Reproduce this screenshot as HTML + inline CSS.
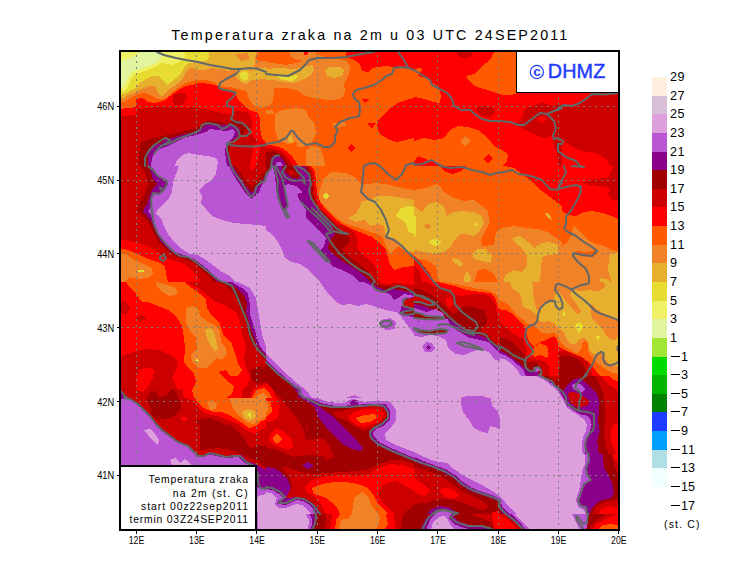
<!DOCTYPE html><html><head><meta charset="utf-8"><title>Temperatura zraka</title>
<style>html,body{margin:0;padding:0;background:#fff}svg{display:block}text{font-family:"Liberation Sans", sans-serif}</style></head><body>
<svg width="740" height="582" viewBox="0 0 740 582" shape-rendering="crispEdges">
<rect x="0" y="0" width="740" height="582" fill="#fff"/>
<defs><clipPath id="mapclip"><rect x="120" y="51" width="499" height="479"/></clipPath>
<clipPath id="t0"><rect x="118" y="50" width="148" height="116"/></clipPath>
<clipPath id="t1"><rect x="266" y="50" width="148" height="116"/></clipPath>
<clipPath id="t2"><rect x="414" y="50" width="148" height="116"/></clipPath>
<clipPath id="t3"><rect x="562" y="50" width="58" height="116"/></clipPath>
<clipPath id="t4"><rect x="118" y="166" width="148" height="116"/></clipPath>
<clipPath id="t5"><rect x="266" y="166" width="148" height="116"/></clipPath>
<clipPath id="t6"><rect x="414" y="166" width="148" height="116"/></clipPath>
<clipPath id="t7"><rect x="562" y="166" width="58" height="116"/></clipPath>
<clipPath id="t8"><rect x="118" y="282" width="148" height="116"/></clipPath>
<clipPath id="t9"><rect x="266" y="282" width="148" height="116"/></clipPath>
<clipPath id="t10"><rect x="414" y="282" width="148" height="116"/></clipPath>
<clipPath id="t11"><rect x="562" y="282" width="58" height="116"/></clipPath>
<clipPath id="t12"><rect x="118" y="398" width="148" height="116"/></clipPath>
<clipPath id="t13"><rect x="266" y="398" width="148" height="116"/></clipPath>
<clipPath id="t14"><rect x="414" y="398" width="148" height="116"/></clipPath>
<clipPath id="t15"><rect x="562" y="398" width="58" height="116"/></clipPath>
<clipPath id="t16"><rect x="266" y="514" width="148" height="17"/></clipPath>
<clipPath id="t17"><rect x="414" y="514" width="148" height="17"/></clipPath>
<clipPath id="t18"><rect x="562" y="514" width="58" height="17"/></clipPath>
<clipPath id="t19"><rect x="118" y="514" width="148" height="17"/></clipPath>
<clipPath id="t20"><rect x="500" y="282" width="120" height="94"/></clipPath>
<clipPath id="t21"><rect x="500" y="376" width="120" height="78"/></clipPath>
</defs>
<g clip-path="url(#mapclip)">
<rect x="119" y="50" width="501" height="481" fill="#ff0000"/>
<g clip-path="url(#t0)">
<rect x="118" y="50" width="148" height="116" fill="#ff0000"/>
<polygon fill="#ff5a00" points="118.0,50.0 266.0,50.0 266.0,143.0 262.0,138.0 260.4,130.0 260.4,120.0 258.0,113.0 250.0,110.0 243.0,105.0 238.0,99.0 235.0,93.0 230.0,90.0 222.0,89.0 218.0,86.0 208.0,83.6 198.0,83.0 192.0,85.0 186.0,86.0 180.0,89.0 174.0,93.0 170.0,96.0 165.0,100.0 160.0,102.0 153.0,103.0 148.0,102.0 144.0,99.0 141.0,98.0 136.4,99.0 136.0,107.0 130.0,108.0 118.0,109.0"/>
<polygon fill="#f08228" points="118.0,50.0 258.0,50.0 258.0,54.0 256.0,58.0 258.0,61.0 266.0,61.0 266.0,107.0 260.0,108.0 254.0,106.0 249.0,99.0 246.0,91.0 238.0,89.0 230.0,87.0 224.0,87.0 218.0,85.0 214.0,82.0 206.0,80.0 198.0,80.0 192.0,81.0 186.0,83.0 182.0,85.0 178.0,88.0 174.0,91.0 170.0,94.0 166.0,98.0 162.0,99.0 158.0,99.0 152.0,96.0 148.0,94.0 144.0,93.0 138.0,94.0 134.0,96.0 129.0,99.0 125.0,102.0 118.0,103.0"/>
<polygon fill="#e6af2d" points="118.0,50.0 256.0,50.0 256.0,52.0 255.0,60.0 254.0,70.0 248.0,69.0 240.0,68.0 236.0,70.0 228.0,70.8 219.0,68.6 210.2,68.4 204.2,70.4 196.8,70.0 192.0,67.6 188.4,69.0 186.0,72.4 183.0,78.0 180.0,82.0 174.0,86.0 168.0,90.0 165.0,94.0 162.0,96.0 159.0,94.0 157.6,92.0 156.0,87.0 153.0,85.6 148.0,86.4 140.0,89.6 137.0,91.0 133.0,93.0 128.0,95.0 124.0,98.0 118.0,99.0"/>
<polygon fill="#e6af2d" points="236.0,70.0 240.0,68.0 248.0,69.0 254.0,74.0 252.0,80.0 246.0,84.0 240.0,82.0 236.0,77.0"/>
<polygon fill="#e6af2d" points="252.0,70.0 266.0,67.0 266.0,79.0 252.0,80.0"/>
<polygon fill="#f08228" points="236.0,54.0 248.0,53.0 250.0,59.0 240.0,61.0"/>
<polygon fill="#e6dc32" points="118.0,50.0 209.0,50.0 208.4,60.0 198.0,62.0 188.0,63.0 185.0,66.0 183.0,70.0 180.0,75.0 176.0,78.0 171.0,82.0 167.0,85.0 162.0,80.0 158.0,76.0 153.0,75.6 148.0,78.0 143.0,81.0 138.0,84.0 136.0,88.0 131.0,90.0 127.0,93.0 118.0,95.6"/>
<polygon fill="#e6dc32" points="240.0,73.0 245.0,71.0 249.0,74.0 248.0,79.0 244.0,81.0 240.4,78.0"/>
<polygon fill="#f0f064" points="118.0,50.0 184.0,50.0 185.0,58.0 182.0,60.0 178.0,62.0 172.0,65.0 168.0,64.0 162.0,63.0 157.0,66.0 150.0,69.0 143.0,71.6 134.0,75.0 132.0,78.0 129.0,84.0 126.0,90.0 118.0,93.0"/>
<polygon fill="#e1f5a0" points="121.0,61.0 128.0,59.0 138.0,54.0 139.6,52.0 158.0,52.0 162.0,56.0 161.0,59.0 156.0,63.0 150.0,65.0 143.0,68.0 136.0,70.0 131.0,73.0 128.0,78.0 125.0,84.0 121.0,89.0"/>
<polygon fill="#cd0000" points="173.0,95.0 178.0,93.0 185.0,93.0 187.0,97.0 185.0,102.0 180.0,105.0 175.0,105.6 172.4,101.0"/>
<polygon fill="#cd0000" points="118.0,117.0 124.0,116.0 136.0,115.0 137.0,109.0 148.0,108.0 158.0,107.0 172.0,106.4 184.0,108.0 194.0,107.0 202.0,109.0 212.0,111.0 222.0,113.0 230.0,114.0 236.0,111.0 246.0,112.0 251.0,116.0 252.0,124.0 251.0,132.0 254.0,138.0 260.0,143.0 266.0,144.0 266.0,166.0 118.0,166.0"/>
<polygon fill="#ff0000" points="254.0,144.0 260.4,143.0 260.4,150.0 258.0,158.0 256.0,166.0 250.0,166.0 252.0,154.0"/>
<polygon fill="#a00000" points="139.0,166.0 139.6,150.0 141.0,142.0 150.0,139.0 162.0,136.0 178.0,133.0 188.0,130.0 198.0,127.0 202.0,123.0 208.0,121.0 218.0,121.0 226.0,124.0 230.0,122.0 236.0,120.0 242.0,123.0 246.0,129.0 242.0,136.0 236.0,140.0 230.0,144.0 229.0,154.0 232.0,166.0"/>
<polygon fill="#8b008b" points="148.0,166.0 148.0,154.0 151.0,148.0 155.0,144.0 161.0,144.0 164.0,140.0 172.0,138.0 184.0,134.0 194.0,132.0 202.0,128.0 206.0,125.0 214.0,124.0 222.0,125.0 230.0,125.0 236.0,126.0 240.0,130.0 238.0,136.0 233.0,140.0 228.0,143.0 227.0,150.0 229.0,158.0 230.0,166.0"/>
<polygon fill="#ba55d3" points="151.0,166.0 152.0,158.0 155.0,152.0 160.0,149.0 168.0,146.0 178.0,141.0 186.0,137.0 196.0,135.0 206.0,132.0 210.0,129.0 218.0,130.0 226.0,131.0 232.0,129.0 235.0,132.0 233.0,138.0 229.0,141.0 226.0,144.0 225.0,152.0 227.0,166.0"/>
<polygon fill="#dda0dd" points="175.0,166.0 177.0,160.0 182.0,155.0 188.0,153.0 198.0,155.0 208.0,156.0 216.0,158.0 218.0,162.0 217.0,166.0"/>
</g>
<g clip-path="url(#t1)">
<rect x="266" y="50" width="148" height="116" fill="#ff5a00"/>
<polygon fill="#f08228" points="266.0,62.0 286.0,65.0 300.0,62.0 312.0,56.0 318.0,54.0 326.0,58.0 346.0,60.0 350.0,66.0 349.0,74.0 344.0,84.0 345.0,92.0 342.0,98.0 332.0,100.0 318.0,99.0 306.0,96.0 296.0,90.0 286.0,88.0 274.0,88.0 273.0,102.0 266.0,107.6"/>
<polygon fill="#f08228" points="290.0,50.0 316.0,50.0 316.0,56.0 306.0,61.0 296.0,60.0 290.0,56.0"/>
<polygon fill="#e6af2d" points="266.0,69.0 278.0,68.0 296.0,69.0 306.0,66.0 313.0,65.0 314.0,70.0 310.0,76.0 302.0,80.0 294.0,83.0 284.0,82.0 274.0,80.0 266.0,80.0"/>
<polygon fill="#e6dc32" points="278.0,75.0 288.0,77.0 296.0,75.0 298.0,77.0 292.0,81.0 284.0,80.0 277.0,77.0"/>
<polygon fill="#e6af2d" points="325.0,70.0 330.0,67.0 340.0,67.0 344.0,71.0 342.0,76.0 334.0,78.0 327.0,76.0"/>
<polygon fill="#f08228" points="275.0,114.0 282.0,110.0 296.0,108.0 306.0,110.0 309.0,118.0 314.0,122.0 316.0,134.0 313.0,140.0 310.0,146.0 298.0,147.0 296.0,142.0 288.0,144.0 278.0,140.0 275.0,130.0"/>
<polygon fill="#f08228" points="266.0,110.0 273.0,110.0 274.0,114.0 266.0,114.4"/>
<polygon fill="#e6af2d" points="288.0,138.0 292.0,133.0 293.0,143.0 289.0,143.0"/>
<polygon fill="#f08228" points="306.0,150.0 312.0,146.0 320.0,148.0 324.0,158.0 325.0,166.0 306.0,166.0"/>
<polygon fill="#f08228" points="332.0,123.0 345.0,122.0 346.0,126.0 334.0,127.6"/>
<polygon fill="#ff0000" points="347.0,50.0 414.0,50.0 414.0,70.0 406.0,69.0 402.0,66.0 394.0,67.0 386.0,66.0 378.0,67.0 372.0,68.0 368.0,72.0 362.0,71.0 360.0,64.0 354.0,60.0 346.0,57.0"/>
<polygon fill="#ff0000" points="414.0,98.0 406.0,100.0 398.0,103.0 390.0,108.0 384.0,114.0 378.0,120.0 377.0,128.0 380.0,134.0 388.0,139.0 396.0,142.0 406.0,140.0 414.0,138.0"/>
<polygon fill="#ff0000" points="362.0,99.0 369.0,99.0 365.4,103.6"/>
<polygon fill="#ff0000" points="367.0,123.6 376.0,123.0 372.0,128.4"/>
<polygon fill="#ff0000" points="351.6,143.6 355.4,148.0 351.6,152.4 347.6,147.6"/>
<polygon fill="#ff0000" points="304.0,52.4 308.0,52.4 307.0,55.6 304.4,55.0"/>
<polygon fill="#ff0000" points="266.0,145.0 274.0,145.6 282.0,148.0 290.0,154.0 296.0,162.0 298.0,166.0 266.0,166.0"/>
<polygon fill="#cd0000" points="266.0,148.0 274.0,148.4 281.0,151.0 288.0,157.0 293.0,166.0 266.0,166.0"/>
<polygon fill="#a00000" points="266.0,152.0 274.0,151.0 280.0,154.0 286.0,160.0 289.0,166.0 266.0,166.0"/>
<polygon fill="#8b008b" points="272.0,156.0 278.0,155.0 283.0,159.0 286.0,166.0 270.0,166.0 271.0,160.0"/>
<polygon fill="#ba55d3" points="277.0,162.0 281.0,162.0 283.0,166.0 275.0,166.0"/>
</g>
<g clip-path="url(#t2)">
<rect x="414" y="50" width="148" height="116" fill="#ff0000"/>
<polygon fill="#ff5a00" points="414.0,69.0 420.0,68.0 422.0,70.0 418.0,76.0 426.0,78.0 434.0,84.0 439.0,88.0 441.0,96.0 440.0,103.0 434.0,102.0 424.0,99.0 414.0,97.0"/>
<polygon fill="#ff5a00" points="495.0,50.0 517.0,50.0 517.0,93.0 512.0,95.0 502.0,95.0 494.0,92.0 484.0,89.0 474.0,86.0 468.0,80.0 466.0,76.0 474.0,74.0 482.0,66.0 490.0,60.0"/>
<polygon fill="#ff5a00" points="414.0,141.0 424.0,138.0 434.0,140.0 444.0,138.0 450.0,130.0 458.0,126.0 468.0,127.0 478.0,130.0 488.0,138.0 494.0,146.0 502.0,150.0 508.0,154.0 507.0,162.0 502.0,166.0 444.0,166.0 434.0,162.0 426.0,159.0 418.0,156.0 414.0,162.0"/>
<polygon fill="#f08228" points="465.0,136.0 470.0,141.0 465.0,147.0 460.4,142.0"/>
<polygon fill="#ff0000" points="488.0,154.0 493.0,159.0 488.0,163.0 483.6,159.0"/>
<polygon fill="#cd0000" points="455.0,50.0 474.0,50.0 471.0,57.0 464.0,58.4 458.0,56.0"/>
<polygon fill="#cd0000" points="477.0,107.0 484.0,105.6 492.0,107.0 495.6,112.0 491.0,117.0 482.0,116.0 476.4,111.0"/>
<polygon fill="#cd0000" points="525.0,109.0 534.0,105.0 542.0,103.0 550.0,105.0 562.0,104.0 562.0,166.0 558.0,166.0 557.0,154.0 554.0,144.0 552.0,136.0 544.0,138.0 534.0,134.0 526.0,130.0 518.0,126.0 516.0,123.0 522.0,118.0"/>
<polygon fill="#ff0000" points="537.0,118.0 542.0,116.0 547.0,118.0 544.0,123.0 539.0,122.0"/>
</g>
<g clip-path="url(#t3)">
<rect x="562" y="50" width="58" height="116" fill="#cd0000"/>
<polygon fill="#ff0000" points="562.0,90.0 591.0,90.0 588.0,98.0 581.0,102.4 572.0,105.6 566.0,104.4 562.0,106.4"/>
<polygon fill="#ff0000" points="562.0,139.0 568.0,144.0 576.0,149.0 588.0,152.0 598.0,154.0 605.0,158.0 610.0,166.0 562.0,166.0"/>
</g>
<g clip-path="url(#t4)">
<rect x="118" y="166" width="148" height="116" fill="#cd0000"/>
<polygon fill="#ff0000" points="118.0,239.0 128.0,241.0 138.0,243.0 148.0,246.0 158.0,252.0 166.0,258.0 174.0,260.0 184.0,264.0 192.0,270.0 198.0,277.0 200.0,282.0 118.0,282.0"/>
<polygon fill="#ff5a00" points="118.0,248.0 128.0,250.0 138.0,254.0 148.0,259.0 158.0,262.0 165.0,266.0 166.0,274.0 168.0,282.0 118.0,282.0"/>
<polygon fill="#f08228" points="118.0,254.0 126.0,254.0 134.0,260.0 144.0,264.0 152.0,268.0 153.0,274.0 148.0,278.0 138.0,279.0 130.0,277.0 124.0,282.0 118.0,282.0"/>
<polygon fill="#e6dc32" points="138.0,270.0 144.0,270.4 144.0,272.0 138.0,271.6"/>
<polygon fill="#a00000" points="141.0,166.0 146.0,174.0 148.0,184.0 145.0,194.0 139.0,204.0 138.0,211.0 143.0,217.0 149.0,223.0 153.0,232.0 158.0,241.0 166.0,250.0 174.0,256.0 184.0,259.0 194.0,263.0 202.0,270.0 210.0,278.0 214.0,282.0 266.0,282.0 266.0,166.0"/>
<polygon fill="#8b008b" points="148.0,166.0 151.0,172.0 153.0,180.0 157.0,184.0 153.0,188.0 150.0,194.0 148.0,202.0 143.0,211.0 147.0,216.0 151.0,221.0 155.0,230.0 160.0,240.0 168.0,249.0 176.0,255.0 186.0,257.6 195.0,262.0 204.0,269.0 213.0,278.0 218.0,282.0 266.0,282.0 266.0,166.0"/>
<polygon fill="#ba55d3" points="150.0,166.0 155.0,171.0 160.0,177.0 167.0,181.0 168.0,184.0 165.0,190.0 161.0,193.0 154.0,194.0 152.0,200.0 151.0,206.0 148.0,212.0 151.0,215.0 153.0,221.0 157.0,230.0 162.0,239.0 169.0,247.0 177.0,253.0 187.0,256.0 196.0,260.0 206.0,268.0 216.0,277.0 223.0,282.0 266.0,282.0 266.0,166.0"/>
<polygon fill="#dda0dd" points="179.0,166.0 176.0,174.0 173.0,182.0 172.0,192.0 169.0,198.0 163.0,204.0 157.0,210.0 156.0,214.0 161.0,218.0 164.0,226.0 168.0,234.0 174.0,242.0 182.0,249.0 190.0,254.0 198.0,255.0 206.0,260.0 214.0,266.0 222.0,272.0 230.0,276.0 235.0,282.0 266.0,282.0 266.0,226.0 258.0,225.0 246.0,224.0 234.0,223.0 222.0,220.0 212.0,216.0 206.0,209.0 201.0,204.0 202.0,196.0 199.0,190.0 204.0,185.0 212.0,180.0 216.0,174.0 217.0,166.0"/>
<polygon fill="#8b008b" points="229.0,166.0 233.0,174.0 238.0,182.0 244.0,191.0 251.0,199.0 258.0,194.0 262.0,185.0 266.0,178.0 266.0,166.0"/>
<polygon fill="#a00000" points="233.0,166.0 237.0,173.0 242.0,180.0 247.0,188.0 252.0,193.0 256.0,187.0 261.0,182.0 266.0,174.0 266.0,166.0"/>
<polygon fill="#cd0000" points="236.0,166.0 240.0,172.0 246.0,181.0 251.0,187.0 256.0,182.0 266.0,170.0 266.0,166.0"/>
<polygon fill="#ff0000" points="249.0,166.0 252.0,171.0 256.0,166.0"/>
</g>
<g clip-path="url(#t5)">
<rect x="266" y="166" width="148" height="116" fill="#ff5a00"/>
<polygon fill="#f08228" points="319.0,192.0 324.0,178.0 330.0,172.0 346.0,173.0 356.0,178.0 362.0,185.0 370.0,183.6 378.0,183.0 390.0,185.0 402.0,188.0 414.0,190.0 414.0,254.0 406.0,252.0 398.0,246.0 394.0,250.0 390.0,254.0 386.0,246.0 384.0,240.0 378.0,234.0 370.0,232.0 360.0,228.0 352.0,226.0 346.0,224.0 340.0,220.0 332.0,214.0 324.0,206.0 319.0,199.0"/>
<polygon fill="#e6af2d" points="348.0,218.0 356.0,214.0 360.0,206.0 362.0,201.0 370.0,200.0 378.0,196.0 390.0,196.0 402.0,198.0 414.0,200.0 414.0,252.0 408.0,251.0 402.0,246.0 394.0,238.0 386.0,237.0 384.0,226.0 378.0,224.0 370.0,226.0 364.0,220.0 356.0,222.0"/>
<polygon fill="#e6dc32" points="396.0,216.0 400.0,209.0 408.0,206.0 414.0,207.0 414.0,234.0 409.0,232.0 406.0,224.0 402.0,220.0"/>
<polygon fill="#e6dc32" points="326.0,193.0 330.0,196.0 326.0,199.4 322.6,196.0"/>
<polygon fill="#ff0000" points="311.0,166.0 315.0,172.0 316.0,182.0 317.0,192.0 320.0,202.0 326.0,210.0 334.0,218.0 342.0,224.0 352.0,229.0 362.0,233.0 372.0,237.0 380.0,243.0 386.0,250.0 388.0,258.0 390.0,264.0 394.0,270.0 404.0,267.0 414.0,266.0 414.0,282.0 266.0,282.0 266.0,166.0"/>
<polygon fill="#cd0000" points="309.0,166.0 313.0,173.0 314.0,183.0 315.0,193.0 317.0,202.0 323.0,211.0 331.0,219.0 338.0,224.0 346.0,227.0 354.0,232.0 358.0,240.0 357.0,248.0 362.0,254.0 370.0,260.0 375.0,266.0 378.0,274.0 380.0,282.0 266.0,282.0 266.0,166.0"/>
<polygon fill="#a00000" points="307.0,166.0 311.0,174.0 312.4,184.0 313.0,194.0 316.0,203.0 321.0,211.0 328.0,218.0 334.0,224.0 340.0,230.0 348.0,234.0 350.0,240.0 346.0,246.0 342.0,249.0 346.0,254.0 354.0,260.0 362.0,266.0 370.0,274.0 374.0,282.0 266.0,282.0 266.0,166.0"/>
<polygon fill="#8b008b" points="305.0,166.0 309.0,175.0 311.0,185.0 311.0,194.0 314.0,203.0 319.0,211.0 326.0,219.0 332.0,226.0 335.0,234.0 330.0,240.0 328.0,248.0 334.0,255.0 344.0,262.0 354.0,268.0 364.0,275.0 370.0,282.0 266.0,282.0 266.0,166.0"/>
<polygon fill="#a00000" points="282.0,166.0 294.0,166.0 301.0,174.0 298.0,179.0 290.0,177.0 285.0,172.0"/>
<polygon fill="#cd0000" points="287.0,170.0 293.0,170.0 296.0,175.0 291.0,175.6"/>
<polygon fill="#ba55d3" points="266.0,166.0 273.0,166.0 275.0,176.0 277.0,196.0 280.0,206.0 286.0,212.0 288.0,206.0 286.0,196.0 284.0,186.0 288.0,184.0 296.0,186.0 303.0,192.0 297.0,194.0 300.0,201.0 306.0,210.0 306.0,218.0 312.0,224.0 320.0,232.0 326.0,238.0 324.0,246.0 320.0,251.0 326.0,259.0 332.0,266.0 342.0,270.0 352.0,275.0 360.0,282.0 266.0,282.0"/>
<polygon fill="#dda0dd" points="266.0,230.0 272.0,234.0 278.0,242.0 282.0,250.0 285.0,258.0 292.0,262.0 300.0,264.0 306.0,268.0 312.0,274.0 318.0,280.0 320.0,282.0 266.0,282.0"/>
<polygon fill="#8b008b" points="266.0,166.0 272.4,166.0 269.6,171.6 266.0,177.6"/>
<polygon fill="#a00000" points="266.0,166.0 270.4,166.0 268.0,171.0 266.0,175.0"/>
</g>
<g clip-path="url(#t6)">
<rect x="414" y="166" width="148" height="116" fill="#ff5a00"/>
<polygon fill="#ff0000" points="504.0,166.0 514.0,168.0 522.0,174.0 530.0,180.0 538.0,188.0 546.0,194.0 554.0,200.0 562.0,206.0 562.0,166.0"/>
<polygon fill="#ff0000" points="440.0,166.0 466.0,166.0 462.0,171.0 452.0,174.0 444.0,171.0"/>
<polygon fill="#f08228" points="414.0,190.0 426.0,188.0 436.0,184.0 440.0,186.0 444.0,192.0 454.0,198.0 464.0,201.0 474.0,200.0 482.0,206.0 488.0,212.0 490.0,222.0 486.0,230.0 481.0,239.0 482.0,246.0 494.0,245.0 496.0,232.0 502.0,228.0 514.0,226.0 526.0,228.0 538.0,229.0 548.0,232.0 556.0,238.0 562.0,242.0 562.0,282.0 498.0,282.0 494.0,274.0 486.0,269.0 478.0,270.0 474.0,282.0 414.0,282.0"/>
<polygon fill="#ff5a00" points="416.0,259.0 426.0,260.0 436.0,266.0 439.0,282.0 432.0,282.0 426.0,270.0 419.0,262.0"/>
<polygon fill="#ff0000" points="414.0,256.0 422.0,264.0 430.0,274.0 434.0,282.0 414.0,282.0"/>
<polygon fill="#cd0000" points="414.0,266.0 420.0,272.0 422.0,282.0 414.0,282.0"/>
<polygon fill="#e6af2d" points="414.0,206.0 422.0,212.0 428.0,204.0 436.0,202.0 444.0,206.0 447.0,218.0 450.0,213.0 460.0,211.0 474.0,212.0 482.0,216.0 484.0,224.0 480.0,230.0 474.0,236.0 466.0,234.0 460.0,234.0 454.0,240.0 452.0,246.0 444.0,252.0 434.0,254.0 424.0,252.0 414.0,250.0"/>
<polygon fill="#e6af2d" points="472.0,254.0 478.0,249.0 486.0,249.0 492.0,256.0 491.0,263.0 482.0,261.0 474.0,259.0"/>
<polygon fill="#e6af2d" points="452.0,258.0 458.0,259.0 463.0,264.0 461.0,267.0 454.0,263.0"/>
<polygon fill="#e6af2d" points="467.0,271.0 471.0,278.0 470.0,282.0 464.0,282.0 464.4,276.0"/>
<polygon fill="#e6af2d" points="512.0,238.0 520.0,236.0 528.0,242.0 534.0,248.0 542.0,243.0 550.0,242.0 558.0,245.0 558.0,254.0 548.0,255.0 542.0,257.0 541.0,270.0 540.0,278.0 540.0,282.0 504.0,282.0 505.0,275.0 514.0,270.0 522.0,272.0 527.0,266.0 527.0,256.0 522.0,248.0 516.0,244.0"/>
<polygon fill="#e6af2d" points="545.0,213.0 550.0,214.0 552.0,220.0 548.0,218.0"/>
<polygon fill="#e6dc32" points="414.0,216.0 416.0,218.0 416.0,236.0 414.0,237.0"/>
<polygon fill="#e6dc32" points="428.0,242.0 435.0,238.4 442.0,242.0 435.0,246.4"/>
<polygon fill="#f08228" points="427.6,223.0 431.0,226.0 428.0,230.0 424.4,225.6"/>
<polygon fill="#e6dc32" points="473.6,224.4 476.0,222.4 478.0,224.4 476.0,226.4"/>
</g>
<g clip-path="url(#t7)">
<rect x="562" y="166" width="58" height="116" fill="#ff5a00"/>
<polygon fill="#ff0000" points="562.0,166.0 620.0,166.0 620.0,220.0 612.0,216.0 602.0,213.0 592.0,211.0 584.0,212.0 576.0,216.0 568.0,215.0 562.0,211.0"/>
<polygon fill="#cd0000" points="582.0,183.0 592.0,179.0 608.0,178.0 612.0,170.0 613.0,166.0 620.0,166.0 620.0,202.0 612.0,200.0 608.0,194.0 610.0,188.0 600.0,186.0 590.0,185.0"/>
<polygon fill="#f08228" points="562.0,246.0 568.0,242.0 572.0,232.0 574.0,226.0 580.0,232.0 588.0,240.0 596.0,244.0 604.0,246.0 612.0,250.0 620.0,252.0 620.0,282.0 562.0,282.0"/>
<polygon fill="#ff5a00" points="576.0,251.0 586.0,252.0 596.0,250.0 597.0,254.0 592.0,257.0 580.0,256.0"/>
<polygon fill="#e6af2d" points="610.0,254.0 620.0,252.0 620.0,282.0 612.0,282.0 608.0,270.0 609.0,260.0"/>
<polygon fill="#e6af2d" points="600.0,278.0 608.0,279.0 610.0,282.0 600.0,282.0"/>
</g>
<g clip-path="url(#t8)">
<rect x="118" y="282" width="148" height="116" fill="#ff0000"/>
<polygon fill="#cd0000" points="186.0,282.0 198.0,288.0 208.0,296.0 216.0,302.0 226.0,306.0 236.0,312.0 240.0,322.0 242.0,334.0 246.0,346.0 244.0,358.0 246.0,368.0 250.0,376.0 248.0,384.0 242.0,390.0 242.0,398.0 266.0,398.0 266.0,282.0"/>
<polygon fill="#ff5a00" points="126.0,282.0 184.0,282.0 192.0,288.0 200.0,294.0 206.0,300.0 207.0,308.0 212.0,316.0 220.0,324.0 224.0,336.0 232.0,344.0 236.0,356.0 238.0,364.0 242.0,370.0 238.0,376.0 230.0,376.0 226.0,370.0 218.0,372.0 226.0,380.0 234.0,386.0 232.0,394.0 226.0,398.0 194.0,398.0 192.0,390.0 196.0,382.0 194.0,374.0 188.0,368.0 184.0,362.0 185.0,348.0 184.0,338.0 182.0,326.0 176.0,316.0 168.0,310.0 158.0,306.0 148.0,302.0 142.0,302.0 136.0,294.0 130.0,288.0"/>
<polygon fill="#f08228" points="156.0,282.0 164.0,284.0 176.0,288.0 178.0,294.0 170.0,296.0 162.0,292.0 157.0,286.0"/>
<polygon fill="#f08228" points="186.0,308.0 192.0,306.0 198.0,308.0 200.0,316.0 208.0,322.0 216.0,326.0 220.0,332.0 221.0,342.0 226.0,348.0 227.0,354.0 222.0,360.0 216.0,358.0 212.0,362.0 206.0,368.0 198.0,368.0 192.0,362.0 191.0,354.0 197.0,348.0 196.0,338.0 190.0,332.0 186.0,322.0"/>
<polygon fill="#e6af2d" points="205.0,330.0 210.0,328.0 214.0,332.0 216.0,340.0 218.0,348.0 215.0,351.0 211.0,346.0 207.0,338.0"/>
<polygon fill="#e6dc32" points="195.0,360.4 197.0,358.6 199.0,360.4 197.0,362.4"/>
<polygon fill="#cd0000" points="118.0,300.0 126.0,302.0 130.0,308.0 127.0,314.0 118.0,315.0"/>
<polygon fill="#cd0000" points="135.0,318.0 141.0,315.0 147.0,318.4 141.0,322.0"/>
<polygon fill="#cd0000" points="118.0,358.0 128.0,354.0 138.0,350.0 150.0,349.0 162.0,351.0 172.0,356.0 178.0,362.0 176.0,370.0 172.0,378.0 176.0,386.0 182.0,394.0 184.0,398.0 118.0,398.0"/>
<polygon fill="#ff0000" points="136.0,378.0 140.0,370.0 148.0,367.0 154.0,370.0 153.0,378.0 148.0,386.0 142.0,392.0 136.0,390.0"/>
<polygon fill="#a00000" points="148.0,394.0 156.0,391.0 162.0,398.0 146.0,398.0"/>
<polygon fill="#a00000" points="168.0,391.0 176.0,394.0 178.0,398.0 166.0,398.0"/>
<polygon fill="#8b008b" points="118.0,390.0 123.0,394.0 127.0,398.0 118.0,398.0"/>
<polygon fill="#a00000" points="218.0,282.0 227.0,286.0 233.0,293.0 238.0,302.0 242.0,312.0 246.0,322.0 248.0,333.0 251.6,343.0 258.0,352.0 266.0,361.0 266.0,282.0"/>
<polygon fill="#8b008b" points="227.0,282.0 234.0,286.0 240.0,292.0 245.0,297.0 247.0,304.0 246.0,312.0 249.0,322.0 252.0,332.0 256.0,342.0 261.0,351.0 266.0,356.0 266.0,282.0"/>
<polygon fill="#ba55d3" points="232.0,282.0 242.0,288.0 248.0,294.0 250.0,304.0 250.0,314.0 253.0,324.0 256.0,334.0 259.0,344.0 263.0,351.0 266.0,354.0 266.0,282.0"/>
<polygon fill="#dda0dd" points="238.0,282.0 250.0,288.0 256.0,298.0 258.0,310.0 260.0,322.0 262.0,334.0 265.0,344.0 266.0,346.0 266.0,282.0"/>
<polygon fill="#a00000" points="251.0,374.0 258.0,368.0 266.0,367.0 266.0,382.0 258.0,384.0 252.0,381.0"/>
<polygon fill="#ff5a00" points="256.0,394.0 262.0,391.0 266.0,391.0 266.0,398.0 258.0,398.0"/>
</g>
<g clip-path="url(#t9)">
<rect x="266" y="282" width="148" height="116" fill="#dda0dd"/>
<polygon fill="#ba55d3" points="320.0,282.0 324.0,288.0 330.0,296.0 336.0,302.0 342.0,305.0 350.0,304.0 358.0,306.0 366.0,304.0 374.0,306.0 382.0,309.0 390.0,311.0 396.0,312.0 402.0,318.0 408.0,326.0 414.0,334.0 414.0,282.0"/>
<polygon fill="#ba55d3" points="381.0,320.0 390.0,318.0 396.0,322.0 395.0,329.0 386.0,330.0 380.0,326.0"/>
<polygon fill="#8b008b" points="364.0,282.0 372.0,286.0 382.0,292.0 390.0,294.0 394.0,300.0 398.0,298.0 404.0,294.0 414.0,296.0 414.0,282.0"/>
<polygon fill="#8b008b" points="402.0,299.0 414.0,297.0 414.0,317.0 406.0,316.0 400.0,312.0 402.0,304.0"/>
<polygon fill="#a00000" points="370.0,282.0 378.0,287.0 386.0,290.0 394.0,289.0 404.0,291.0 414.0,293.0 414.0,282.0"/>
<polygon fill="#cd0000" points="374.0,282.0 382.0,286.0 394.0,286.0 406.0,288.0 414.0,290.0 414.0,282.0"/>
<polygon fill="#ff0000" points="378.0,282.0 386.0,284.0 398.0,283.0 414.0,285.0 414.0,282.0"/>
<polygon fill="#ba55d3" points="266.0,353.0 274.0,362.0 282.0,370.0 290.0,377.0 298.0,384.0 306.0,390.0 312.0,398.0 266.0,398.0"/>
<polygon fill="#8b008b" points="266.0,359.0 272.0,366.0 280.0,373.0 288.0,380.0 296.0,386.0 301.0,390.0 301.0,394.0 306.0,398.0 266.0,398.0"/>
<polygon fill="#a00000" points="266.0,363.0 272.0,369.0 278.0,375.0 286.0,381.0 293.0,387.0 298.0,394.0 298.0,398.0 266.0,398.0"/>
<polygon fill="#cd0000" points="266.0,376.0 271.0,380.0 276.0,387.0 280.0,398.0 266.0,398.0"/>
<polygon fill="#ff0000" points="266.0,381.0 270.0,384.0 274.0,391.0 275.0,398.0 266.0,398.0"/>
<polygon fill="#ff5a00" points="266.0,387.0 269.0,390.0 271.0,398.0 266.0,398.0"/>
<polygon fill="#ba55d3" points="346.0,398.0 354.0,395.0 362.0,398.0"/>
<polygon fill="#cd0000" points="406.0,299.0 414.0,298.0 414.0,308.0 410.0,307.6 404.0,305.6 404.0,301.0"/>
<polygon fill="#a00000" points="404.0,311.6 414.0,310.4 414.0,314.0 406.0,314.6"/>
</g>
<g clip-path="url(#t10)">
<rect x="414" y="282" width="148" height="116" fill="#f08228"/>
<polygon fill="#e6af2d" points="522.0,282.0 562.0,282.0 562.0,321.0 554.0,321.0 544.0,319.0 538.0,315.0 540.0,308.0 534.0,302.0 528.0,304.0 523.0,298.0"/>
<polygon fill="#f08228" points="532.0,288.0 542.0,290.0 552.0,296.0 558.0,302.0 550.0,304.0 542.0,301.0 534.0,296.0"/>
<polygon fill="#ff5a00" points="444.0,282.0 466.0,286.0 478.0,289.0 488.0,290.0 496.0,294.0 500.0,302.0 508.0,310.0 518.0,316.0 528.0,318.0 536.0,320.0 544.0,322.0 554.0,324.0 562.0,324.0 562.0,398.0 414.0,398.0 414.0,282.0"/>
<polygon fill="#ff0000" points="438.0,282.0 454.0,286.0 466.0,290.0 480.0,292.0 490.0,293.0 495.0,298.0 498.0,306.0 504.0,314.0 514.0,320.0 524.0,324.0 526.0,330.0 528.0,340.0 532.0,348.0 530.0,354.0 534.0,356.0 542.0,354.0 550.0,350.0 552.0,342.0 558.0,337.0 562.0,336.0 562.0,398.0 414.0,398.0 414.0,282.0"/>
<polygon fill="#f08228" points="537.0,342.0 542.0,344.0 550.0,350.0 548.0,356.0 540.0,357.0 534.0,354.0 532.0,348.0"/>
<polygon fill="#cd0000" points="426.0,282.0 440.0,288.0 450.0,292.0 460.0,296.0 474.0,294.0 484.0,294.0 491.0,297.0 495.0,304.0 497.0,312.0 500.0,320.0 506.0,328.0 514.0,334.0 522.0,340.0 524.0,348.0 526.0,358.0 532.0,361.0 538.0,358.0 544.0,362.0 550.0,368.0 556.0,370.0 558.0,362.0 557.0,352.0 562.0,348.0 562.0,398.0 414.0,398.0 414.0,282.0"/>
<polygon fill="#ff0000" points="446.0,298.0 451.0,297.0 453.0,304.0 450.0,308.0 446.0,305.0"/>
<polygon fill="#a00000" points="414.0,288.0 422.0,290.0 430.0,294.0 438.0,300.0 446.0,308.0 454.0,314.0 460.0,308.0 466.0,306.0 476.0,308.0 484.0,310.0 487.0,318.0 486.0,324.0 482.0,328.0 480.0,332.0 488.0,334.0 494.0,342.0 502.0,348.0 510.0,353.0 518.0,357.0 524.0,362.0 530.0,366.0 538.0,364.0 542.0,368.0 546.0,374.0 554.0,378.0 560.0,380.0 562.0,378.0 562.0,398.0 414.0,398.0 414.0,282.0"/>
<polygon fill="#cd0000" points="414.0,295.0 422.0,296.0 430.0,300.0 434.0,305.0 428.0,305.0 420.0,302.0 414.0,302.0"/>
<polygon fill="#8b008b" points="414.0,304.0 424.0,306.0 434.0,310.0 444.0,316.0 454.0,322.0 464.0,330.0 474.0,334.0 482.0,336.0 490.0,340.0 498.0,347.0 506.0,352.0 514.0,357.0 522.0,362.0 526.0,368.0 534.0,372.0 542.0,376.0 550.0,380.0 558.0,385.0 562.0,388.0 562.0,398.0 414.0,398.0"/>
<polygon fill="#ba55d3" points="414.0,308.0 426.0,312.0 436.0,309.0 444.0,314.0 444.0,319.0 434.0,321.0 422.0,321.0 414.0,322.0"/>
<polygon fill="#ba55d3" points="414.0,322.0 424.0,321.0 438.0,320.0 448.0,319.0 450.0,326.0 460.0,332.0 470.0,338.0 480.0,340.0 488.0,342.0 496.0,350.0 504.0,356.0 512.0,361.0 520.0,366.0 526.0,371.0 534.0,375.0 542.0,379.0 550.0,383.0 558.0,388.0 562.0,391.0 562.0,398.0 414.0,398.0"/>
<polygon fill="#a00000" points="414.0,312.0 422.0,314.0 426.0,316.0 434.0,316.4 444.0,317.0 444.0,319.0 434.0,319.6 424.0,319.0 414.0,318.0"/>
<polygon fill="#a00000" points="414.0,328.0 420.0,330.0 430.0,331.0 440.0,329.0 448.0,330.0 446.0,333.0 434.0,334.0 424.0,333.6 418.0,332.0 414.0,329.0"/>
<polygon fill="#dda0dd" points="414.0,336.0 422.0,337.0 430.0,335.0 438.0,336.0 446.0,340.0 448.0,348.0 456.0,354.0 464.0,355.0 474.0,351.0 482.0,349.0 490.0,353.0 494.0,359.0 502.0,362.0 510.0,366.0 518.0,371.0 526.0,376.0 534.0,380.0 544.0,382.0 552.0,387.0 558.0,392.0 562.0,394.0 562.0,398.0 414.0,398.0"/>
<polygon fill="#ba55d3" points="422.0,346.0 426.0,342.0 432.0,343.0 435.0,348.0 431.0,352.0 425.0,351.6"/>
<polygon fill="#8b008b" points="428.4,345.0 431.0,347.6 428.4,350.4 426.0,347.6"/>
<polygon fill="#ba55d3" points="461.0,398.0 466.0,396.0 482.0,396.0 488.0,398.0"/>
</g>
<g clip-path="url(#t11)">
<rect x="562" y="282" width="58" height="116" fill="#e6af2d"/>
<polygon fill="#f08228" points="562.0,282.0 605.0,282.0 605.0,294.0 600.0,304.0 610.0,312.0 620.0,315.0 620.0,336.0 614.0,340.0 608.0,334.0 600.0,328.0 592.0,320.0 588.0,310.0 584.0,300.0 576.0,294.0 568.0,293.0 562.0,290.0"/>
<polygon fill="#e6dc32" points="574.0,325.0 579.0,322.0 582.0,327.0 578.0,332.0 574.4,330.0"/>
<polygon fill="#e6dc32" points="596.0,337.0 600.0,335.6 598.4,341.0"/>
<polygon fill="#f08228" points="562.0,336.0 568.0,342.0 574.0,344.0 580.0,340.0 586.0,342.0 590.0,350.0 594.0,358.0 592.0,366.0 596.0,370.0 604.0,372.0 612.0,373.0 620.0,370.0 620.0,398.0 562.0,398.0"/>
<polygon fill="#ff5a00" points="562.0,348.0 568.0,350.0 576.0,352.0 582.0,356.0 588.0,362.0 592.0,370.0 596.0,374.0 604.0,376.0 612.0,377.0 620.0,375.0 620.0,398.0 562.0,398.0"/>
<polygon fill="#ff0000" points="562.0,351.0 572.0,354.0 580.0,358.0 586.0,364.0 590.0,370.0 594.0,376.0 602.0,380.0 612.0,382.0 620.0,380.0 620.0,398.0 562.0,398.0"/>
<polygon fill="#cd0000" points="562.0,356.0 570.0,357.0 578.0,361.0 584.0,368.0 588.0,376.0 594.0,382.0 602.0,386.0 612.0,388.0 620.0,386.0 620.0,398.0 562.0,398.0"/>
<polygon fill="#a00000" points="562.0,358.0 568.0,359.0 574.0,362.0 580.0,368.0 584.0,374.0 586.0,380.0 592.0,386.0 600.0,391.0 610.0,393.0 620.0,394.0 620.0,398.0 562.0,398.0"/>
<polygon fill="#8b008b" points="568.0,382.0 576.0,378.0 584.0,382.0 592.0,390.0 600.0,394.0 612.0,397.0 620.0,398.0 562.0,398.0 562.0,390.0"/>
<polygon fill="#ba55d3" points="574.0,385.0 579.0,384.0 584.0,389.0 581.0,394.0 576.0,391.0"/>
<polygon fill="#dda0dd" points="562.0,394.0 566.0,398.0 562.0,398.0"/>
</g>
<g clip-path="url(#t12)">
<rect x="118" y="398" width="148" height="116" fill="#cd0000"/>
<polygon fill="#a00000" points="148.0,402.0 166.0,401.0 178.0,404.0 180.0,412.0 174.0,418.0 164.0,422.0 156.0,420.0 150.0,412.0"/>
<polygon fill="#a00000" points="222.0,426.0 230.0,424.0 236.0,430.0 244.0,438.0 246.0,448.0 238.0,450.0 230.0,444.0 224.0,436.0"/>
<polygon fill="#a00000" points="256.0,448.0 266.0,446.0 266.0,468.0 258.0,462.0"/>
<polygon fill="#a00000" points="196.0,420.0 208.0,418.0 222.0,422.0 220.0,428.0 208.0,426.0 198.0,425.0"/>
<polygon fill="#ff0000" points="188.0,398.0 194.0,402.0 198.0,408.0 206.0,414.0 218.0,416.0 228.0,420.0 238.0,424.0 246.0,430.0 254.0,434.0 260.0,430.0 266.0,428.0 266.0,398.0"/>
<polygon fill="#ff0000" points="180.0,418.0 184.0,416.4 187.6,419.0 184.0,421.0"/>
<polygon fill="#ff5a00" points="195.0,398.0 198.0,403.0 204.0,408.0 212.0,411.6 222.0,412.0 229.0,415.0 236.0,419.0 242.0,423.0 249.0,428.0 256.0,426.0 262.0,421.0 266.0,420.0 266.0,398.0"/>
<polygon fill="#f08228" points="207.0,402.0 212.0,400.0 217.0,404.0 216.0,409.0 210.0,410.0"/>
<polygon fill="#f08228" points="230.0,398.0 266.0,398.0 266.0,417.0 260.0,420.0 254.0,424.0 248.0,423.0 242.0,419.0 236.0,413.0 232.0,406.0"/>
<polygon fill="#e6af2d" points="242.0,412.0 248.0,409.0 255.0,411.0 256.0,417.0 250.0,421.0 244.0,418.0"/>
<polygon fill="#e6dc32" points="246.0,414.0 251.0,412.4 251.0,418.0"/>
<polygon fill="#8b008b" points="118.0,398.0 130.0,398.0 138.0,403.0 144.0,409.0 150.0,415.0 156.0,423.0 162.0,429.0 170.0,435.0 178.0,441.0 188.0,445.0 194.0,451.0 198.0,455.0 204.0,455.0 210.0,452.0 218.0,454.0 226.0,456.0 234.0,455.0 241.0,455.0 247.0,461.0 256.0,464.0 266.0,470.0 266.0,514.0 118.0,514.0"/>
<polygon fill="#ba55d3" points="118.0,399.0 129.0,399.0 137.0,404.4 143.0,410.4 149.0,416.4 155.0,424.4 161.0,430.4 169.0,436.4 177.0,442.4 187.0,446.6 193.0,452.4 198.0,457.0 204.0,457.0 210.0,454.4 218.0,456.4 226.0,458.0 234.0,457.4 239.0,457.4 245.0,463.0 252.0,467.0 256.0,474.0 256.0,482.0 258.0,488.0 266.0,490.0 266.0,514.0 118.0,514.0"/>
<polygon fill="#dda0dd" points="143.0,430.0 150.0,429.0 155.0,434.0 159.0,440.0 158.0,445.0 153.0,441.0 148.0,435.0"/>
<polygon fill="#dda0dd" points="170.0,460.0 175.0,458.0 180.0,463.0 184.0,459.0 188.0,461.0 191.0,465.0 172.0,465.0"/>
<polygon fill="#dda0dd" points="258.0,496.0 266.0,494.0 266.0,514.0 258.0,514.0 256.0,504.0"/>
</g>
<g clip-path="url(#t13)">
<rect x="266" y="398" width="148" height="116" fill="#a00000"/>
<polygon fill="#cd0000" points="276.0,398.0 294.0,398.0 298.0,406.0 306.0,416.0 308.0,426.0 306.0,436.0 312.0,440.0 318.0,438.0 326.0,440.0 330.0,448.0 334.0,456.0 328.0,460.0 318.0,456.0 306.0,455.0 294.0,457.0 286.0,454.0 278.0,450.0 266.0,448.0 266.0,418.0 272.0,410.0"/>
<polygon fill="#cd0000" points="332.0,413.0 346.0,410.0 360.0,407.0 378.0,406.0 386.0,409.0 387.0,417.0 380.0,423.0 372.0,427.0 364.0,431.0 354.0,426.0 346.0,420.0 336.0,417.0"/>
<polygon fill="#cd0000" points="282.0,467.0 292.0,468.0 300.0,472.0 312.0,474.0 326.0,473.0 342.0,472.0 356.0,471.0 370.0,469.0 378.0,464.0 390.0,460.0 402.0,460.0 414.0,464.0 414.0,514.0 316.0,514.0 314.0,506.0 306.0,500.0 296.0,498.0 288.0,502.0 282.0,500.0 286.0,492.0 292.0,486.0 290.0,478.0 284.0,470.0"/>
<polygon fill="#ff0000" points="266.0,398.0 276.0,398.0 280.0,406.0 278.0,418.0 270.0,422.0 266.0,421.0"/>
<polygon fill="#ff0000" points="270.0,434.0 276.0,428.0 284.0,432.0 292.0,440.0 293.0,448.0 286.0,449.0 276.0,446.0 269.0,441.0"/>
<polygon fill="#ff0000" points="348.0,417.0 354.0,412.0 366.0,409.0 378.0,409.0 384.0,413.0 382.0,420.0 374.0,424.0 362.0,427.0 354.0,424.0"/>
<polygon fill="#ff0000" points="305.0,486.0 312.0,480.0 326.0,476.0 342.0,475.0 356.0,476.0 370.0,474.0 378.0,468.0 390.0,464.0 402.0,465.0 414.0,469.0 414.0,478.0 402.0,480.0 390.0,482.0 382.0,486.0 378.0,494.0 382.0,502.0 390.0,510.0 394.0,514.0 326.0,514.0 322.0,506.0 314.0,496.0 306.0,492.0"/>
<polygon fill="#ff5a00" points="266.0,400.0 271.0,402.0 272.0,412.0 266.0,417.0"/>
<polygon fill="#ff5a00" points="273.0,437.0 277.0,434.0 282.0,439.0 278.0,444.0 274.0,442.0"/>
<polygon fill="#ff5a00" points="356.0,418.0 364.0,415.0 375.0,414.0 377.0,418.0 370.0,422.0 360.0,423.0"/>
<polygon fill="#ff5a00" points="312.0,488.0 322.0,484.0 334.0,482.0 346.0,482.0 358.0,484.0 368.0,488.0 374.0,496.0 378.0,504.0 386.0,512.0 388.0,514.0 340.0,514.0 336.0,506.0 326.0,498.0 314.0,494.0"/>
<polygon fill="#f08228" points="354.0,498.0 362.0,492.0 368.0,496.0 372.0,506.0 378.0,514.0 352.0,514.0"/>
<polygon fill="#f08228" points="266.0,403.0 268.0,404.0 268.4,410.0 266.0,412.0"/>
<polygon fill="#8b008b" points="296.0,398.0 306.0,398.0 316.0,404.0 324.0,410.0 332.0,416.0 340.0,424.0 350.0,434.0 358.0,442.0 363.0,448.0 360.0,451.0 352.0,449.0 344.0,445.0 336.0,438.0 328.0,430.0 322.0,422.0 316.0,414.0 306.0,408.0 298.0,404.0"/>
<polygon fill="#8b008b" points="302.0,465.0 308.0,462.0 314.0,466.0 308.0,469.4"/>
<polygon fill="#8b008b" points="304.0,398.0 311.0,402.0 320.0,406.0 332.0,408.0 346.0,408.0 360.0,407.0 374.0,406.0 383.0,407.0 386.6,412.4 386.6,417.6 381.0,423.0 373.0,427.0 369.0,432.0 370.0,439.0 377.0,445.0 389.0,451.0 401.0,456.0 414.0,461.0 414.0,398.0"/>
<polygon fill="#ba55d3" points="309.0,398.0 315.0,400.4 323.0,403.6 334.0,405.6 346.0,405.6 360.0,404.6 375.0,403.6 386.0,404.4 390.4,411.0 390.4,419.0 384.0,425.6 376.0,429.6 373.0,433.0 374.0,437.0 380.0,442.4 392.0,448.4 404.0,453.6 414.0,458.0 414.0,398.0"/>
<polygon fill="#dda0dd" points="318.0,398.0 326.0,401.6 338.0,403.0 346.0,402.4 348.0,400.0 354.0,399.0 360.0,401.0 366.0,402.0 378.0,400.4 390.0,401.6 396.4,410.0 396.4,420.0 390.4,428.0 384.4,434.0 386.4,440.0 396.0,445.0 406.0,449.0 414.0,452.0 414.0,398.0"/>
<polygon fill="#8b008b" points="349.0,403.0 352.0,400.0 357.0,400.4 359.0,405.0 354.0,406.0"/>
<polygon fill="#8b008b" points="266.0,467.0 274.0,468.0 282.0,473.0 288.0,480.0 291.0,488.0 288.0,494.0 286.0,498.0 296.0,497.0 304.0,498.0 313.0,503.0 318.0,509.0 321.0,514.0 266.0,514.0"/>
<polygon fill="#ba55d3" points="266.0,489.0 272.0,490.0 279.0,494.0 283.0,497.4 279.0,500.4 277.0,504.0 286.0,505.0 296.0,500.0 303.6,501.0 310.4,505.6 315.0,511.0 317.0,514.0 266.0,514.0"/>
<polygon fill="#dda0dd" points="266.0,492.0 272.0,493.6 277.0,498.0 275.0,504.0 278.0,508.0 286.0,508.0 296.0,504.0 302.0,505.0 307.0,509.0 311.0,514.0 266.0,514.0"/>
</g>
<g clip-path="url(#t14)">
<rect x="414" y="398" width="148" height="116" fill="#dda0dd"/>
<polygon fill="#ba55d3" points="461.0,398.0 491.0,398.0 492.0,406.0 498.0,412.0 501.0,422.0 505.0,431.0 498.0,428.0 490.0,426.0 488.0,433.0 482.0,432.0 474.0,428.0 469.0,420.0 463.0,412.0 461.0,404.0"/>
<polygon fill="#ba55d3" points="414.0,452.0 422.0,456.0 434.0,461.0 447.0,463.0 454.0,469.0 464.0,476.0 474.0,481.0 484.0,486.0 494.0,492.0 502.0,498.0 508.0,506.0 516.0,514.0 414.0,514.0"/>
<polygon fill="#8b008b" points="414.0,457.0 422.0,460.4 434.0,465.0 446.0,469.6 455.0,475.0 463.0,482.0 471.0,487.4 481.0,491.6 493.0,495.6 500.4,499.0 502.0,506.0 506.0,511.0 509.0,514.0 414.0,514.0"/>
<polygon fill="#a00000" points="414.0,461.6 422.0,464.4 434.0,468.4 445.6,473.6 453.6,478.4 461.2,485.4 469.2,490.4 479.2,494.4 491.2,498.4 498.0,501.4 498.8,508.0 502.0,514.0 414.0,514.0"/>
<polygon fill="#cd0000" points="414.0,467.0 424.0,470.0 436.0,474.0 446.0,479.0 454.0,485.0 462.0,491.0 472.0,496.0 482.0,501.0 488.0,507.0 482.0,510.0 474.0,507.0 464.0,503.0 454.0,500.0 444.0,499.0 434.0,500.0 426.0,504.0 420.0,507.0 414.0,508.0"/>
<polygon fill="#ff0000" points="414.0,480.0 420.0,482.0 426.0,486.0 430.0,491.0 424.0,496.0 418.0,494.0 414.0,492.0"/>
<polygon fill="#ff0000" points="440.0,489.0 446.0,487.0 453.0,490.0 459.0,496.0 454.0,499.0 446.0,497.0 441.0,493.0"/>
<polygon fill="#ff0000" points="492.0,512.0 498.0,511.0 499.0,514.0 493.0,514.0"/>
<polygon fill="#8b008b" points="426.0,514.0 432.0,509.0 440.0,506.0 448.0,507.0 458.0,513.0 458.0,514.0"/>
<polygon fill="#ba55d3" points="434.0,514.0 438.0,511.0 444.0,510.0 451.0,513.0 452.0,514.0"/>
</g>
<g clip-path="url(#t15)">
<rect x="562" y="398" width="58" height="116" fill="#dda0dd"/>
<polygon fill="#ba55d3" points="563.0,398.0 565.0,405.0 572.0,410.0 579.0,414.0 586.0,420.0 588.0,428.0 584.0,436.0 581.6,444.0 582.0,450.0 585.0,456.0 585.0,464.0 582.4,470.0 581.0,478.0 580.0,486.0 578.0,494.0 576.0,500.0 578.0,507.0 584.0,510.0 586.0,514.0 620.0,514.0 620.0,398.0"/>
<polygon fill="#8b008b" points="566.0,398.0 569.0,404.0 575.0,408.0 581.0,411.0 589.0,412.4 594.4,415.6 594.4,426.0 591.0,432.4 587.0,440.4 586.0,448.0 589.0,453.4 590.0,460.4 587.0,468.0 588.0,475.0 591.6,480.0 585.0,484.4 582.0,492.4 579.0,501.0 582.0,506.0 586.4,507.6 587.6,514.0 620.0,514.0 620.0,398.0"/>
<polygon fill="#a00000" points="598.0,398.0 599.0,408.0 598.0,418.0 600.0,428.0 598.0,436.0 597.0,444.0 602.0,448.0 603.0,458.0 604.0,468.0 608.0,474.0 612.0,482.0 614.0,492.0 612.0,498.0 602.0,500.0 596.0,504.0 592.0,508.0 590.0,514.0 620.0,514.0 620.0,398.0"/>
<polygon fill="#a00000" points="568.0,398.0 584.0,398.0 583.0,406.0 578.0,409.0 572.0,406.0"/>
<polygon fill="#cd0000" points="604.0,398.0 605.0,410.0 603.0,420.0 606.0,428.0 610.0,438.0 613.0,448.0 612.0,458.0 615.0,466.0 617.0,474.0 619.0,482.0 620.0,498.0 620.0,398.0"/>
<polygon fill="#cd0000" points="596.0,506.0 604.0,502.0 612.0,500.0 620.0,499.0 620.0,514.0 592.0,514.0"/>
<polygon fill="#ff0000" points="608.0,398.0 620.0,398.0 620.0,414.0 612.0,412.0 609.0,406.0"/>
<polygon fill="#ff0000" points="609.0,428.0 614.0,426.0 620.0,428.0 620.0,462.0 615.0,460.0 612.0,452.0 610.0,442.0"/>
<polygon fill="#ff0000" points="600.0,510.0 608.0,506.0 616.0,507.0 620.0,506.0 620.0,514.0 598.0,514.0"/>
<polygon fill="#ff5a00" points="616.0,438.0 620.0,437.0 620.0,452.0 616.4,450.0"/>
<polygon fill="#ff0000" points="581.0,398.0 588.0,398.0 587.0,403.0 582.0,402.0"/>
</g>
<g clip-path="url(#t16)">
<rect x="266" y="514" width="148" height="17" fill="#cd0000"/>
<polygon fill="#a00000" points="315.0,506.0 324.0,508.0 326.0,520.0 324.0,530.0 314.0,530.0"/>
<polygon fill="#8b008b" points="266.0,512.0 313.0,511.0 315.0,518.0 313.6,530.0 266.0,530.0"/>
<polygon fill="#ba55d3" points="266.0,512.0 309.0,512.0 312.4,520.0 311.0,530.0 266.0,530.0"/>
<polygon fill="#dda0dd" points="266.0,512.0 304.0,512.0 309.0,520.0 308.0,530.0 266.0,530.0"/>
<polygon fill="#ff0000" points="330.0,530.0 332.0,516.0 335.0,504.0 386.0,504.0 394.0,516.0 396.0,530.0"/>
<polygon fill="#ff5a00" points="335.0,530.0 336.0,520.0 342.0,512.0 350.0,508.0 378.0,506.0 386.0,514.0 388.0,524.0 384.0,530.0"/>
<polygon fill="#f08228" points="339.0,530.0 341.0,520.0 350.0,518.0 354.0,506.0 360.0,496.0 370.0,500.0 376.0,510.0 380.0,518.0 378.0,526.0 374.0,530.0"/>
<polygon fill="#a00000" points="400.0,530.0 404.0,520.0 414.0,514.0 414.0,530.0"/>
</g>
<g clip-path="url(#t17)">
<rect x="414" y="514" width="148" height="17" fill="#dda0dd"/>
<polygon fill="#ba55d3" points="502.0,500.0 508.0,508.0 516.0,516.0 524.0,524.0 530.0,530.0 414.0,530.0 414.0,500.0"/>
<polygon fill="#8b008b" points="501.0,501.0 506.0,509.0 514.0,517.0 522.0,525.0 526.0,530.0 414.0,530.0 414.0,500.0"/>
<polygon fill="#cd0000" points="414.0,500.0 498.0,500.0 499.0,508.0 505.0,515.0 513.0,521.0 519.0,527.0 522.0,530.0 414.0,530.0"/>
<polygon fill="#ff0000" points="491.0,512.0 496.0,510.0 500.0,514.0 508.0,520.0 516.0,527.0 518.0,530.0 494.0,530.0 493.0,520.0"/>
<polygon fill="#a00000" points="414.0,506.0 426.0,504.0 434.0,506.0 446.0,507.0 460.0,510.0 474.0,516.0 486.0,520.0 493.0,524.0 494.0,530.0 414.0,530.0"/>
<polygon fill="#8b008b" points="420.0,530.0 426.0,518.0 434.0,510.0 444.0,508.0 457.0,512.0 454.0,517.0 460.0,522.0 470.0,525.0 482.0,525.0 493.0,530.0"/>
<polygon fill="#ba55d3" points="426.0,530.0 430.0,520.0 436.0,513.0 444.0,511.0 451.0,513.6 449.0,518.0 454.0,524.0 464.0,528.0 474.0,530.0"/>
<polygon fill="#dda0dd" points="431.0,530.0 433.0,522.0 438.0,517.0 444.0,516.0 448.0,520.0 451.0,526.0 456.0,530.0"/>
</g>
<g clip-path="url(#t18)">
<rect x="562" y="514" width="58" height="17" fill="#dda0dd"/>
<polygon fill="#ba55d3" points="572.0,514.0 584.0,506.0 620.0,506.0 620.0,530.0 580.0,530.0"/>
<polygon fill="#a00000" points="587.0,507.0 608.0,500.0 620.0,500.0 620.0,530.0 586.0,530.0 588.4,520.0"/>
<polygon fill="#cd0000" points="589.0,530.0 592.0,524.0 598.0,519.0 604.0,516.0 610.0,508.0 620.0,506.0 620.0,530.0"/>
<polygon fill="#ff0000" points="592.0,530.0 596.0,524.0 604.0,520.0 612.0,516.0 620.0,514.0 620.0,530.0"/>
<polygon fill="#ff5a00" points="598.0,530.0 602.0,525.0 612.0,524.0 620.0,526.0 620.0,530.0"/>
</g>
<g clip-path="url(#t19)">
<rect x="118" y="514" width="148" height="17" fill="#dda0dd"/>
<polygon fill="#ba55d3" points="256.0,514.0 258.0,514.0 257.6,522.0 259.0,531.0 256.0,531.0"/>
</g>
<g clip-path="url(#t20)">
<rect x="500" y="282" width="120" height="94" fill="#e6af2d"/>
<polygon fill="#f08228" points="500.0,282.0 509.7,282.0 512.2,288.5 519.5,293.4 521.9,299.8 522.7,306.3 530.8,310.4 536.5,314.4 538.9,320.1 542.2,322.5 548.6,320.9 555.1,324.2 560.0,329.0 564.9,333.9 567.3,340.4 571.4,344.4 576.2,343.6 579.5,338.8 584.3,337.9 588.4,342.0 589.2,348.5 592.4,353.4 597.3,355.0 600.5,351.7 603.8,353.4 605.4,359.8 610.3,364.7 620.0,366.3 620.0,376.1 500.0,376.1"/>
<polygon fill="#f08228" points="532.4,282.0 603.8,282.0 605.4,286.9 597.3,291.7 590.8,290.1 581.1,290.9 573.0,290.1 569.7,295.0 576.2,303.1 581.1,311.2 577.8,314.4 571.4,307.9 564.9,299.8 561.6,295.0 558.4,291.7 555.1,295.0 553.5,299.8 547.0,301.5 540.5,306.3 538.1,312.8 534.9,304.7 533.2,293.4"/>
<polygon fill="#f08228" points="590.8,303.1 597.3,309.6 605.4,314.4 613.5,317.7 620.0,320.9 620.0,335.5 613.5,340.4 607.0,337.1 603.8,330.6 597.3,324.2 592.4,319.3 590.8,311.2"/>
<polygon fill="#e6dc32" points="574.6,325.8 579.5,321.7 583.5,326.6 579.5,333.1"/>
<polygon fill="#e6dc32" points="595.7,336.3 599.7,336.3 598.1,341.2"/>
<polygon fill="#e6dc32" points="562.4,312.0 564.1,310.4 564.9,316.1 562.9,316.4"/>
<polygon fill="#ff5a00" points="500.0,300.6 504.9,302.3 509.7,306.3 516.2,314.4 522.7,319.3 527.6,324.5 532.4,323.4 537.3,329.0 540.5,332.3 547.0,333.9 553.5,332.3 557.6,335.5 560.0,342.0 564.9,346.9 571.4,350.1 576.2,353.4 581.1,350.1 582.7,342.0 585.9,340.4 588.4,345.2 588.4,351.7 592.4,358.2 597.3,363.1 603.8,367.9 611.9,372.8 620.0,374.4 620.0,376.1 500.0,376.1"/>
<polygon fill="#ff0000" points="500.0,309.6 506.5,310.4 513.0,314.4 517.8,319.3 522.7,324.2 525.9,328.2 526.8,335.5 529.2,342.0 534.1,346.9 538.9,342.8 543.0,341.2 548.6,338.8 553.5,336.3 556.8,338.8 558.4,346.9 564.9,350.1 573.0,353.4 581.1,356.6 587.6,361.5 592.4,366.3 597.3,372.8 600.5,376.1 500.0,376.1"/>
<polygon fill="#ff5a00" points="530.0,354.2 534.9,346.9 539.7,342.8 547.0,346.1 548.6,353.4 547.0,358.2 540.5,355.0 535.7,356.6"/>
<polygon fill="#cd0000" points="500.0,322.5 504.9,325.8 509.7,330.6 516.2,335.5 522.7,337.9 525.1,343.6 526.8,350.1 525.9,355.0 529.2,358.2 537.3,359.8 545.4,361.5 548.6,366.3 550.3,376.1 500.0,376.1"/>
<polygon fill="#cd0000" points="557.6,351.7 564.9,350.9 573.0,354.2 581.1,357.4 587.6,362.3 590.8,367.9 592.4,376.1 557.6,376.1"/>
<polygon fill="#a00000" points="500.0,337.1 506.5,338.8 513.0,342.8 519.5,348.5 524.3,355.0 527.6,361.5 537.3,363.1 541.4,367.9 542.2,376.1 500.0,376.1"/>
<polygon fill="#a00000" points="560.0,356.6 568.1,355.0 576.2,358.2 582.7,363.1 585.9,369.6 585.1,376.1 559.2,376.1"/>
<polygon fill="#8b008b" points="500.0,350.9 506.5,353.4 513.0,358.2 519.5,363.1 524.3,367.9 529.2,371.2 537.3,370.4 540.5,376.1 500.0,376.1"/>
<polygon fill="#ba55d3" points="500.0,353.4 506.5,355.8 513.0,360.6 518.6,365.5 523.5,370.4 525.9,376.1 500.0,376.1"/>
<polygon fill="#dda0dd" points="500.0,358.2 506.5,359.8 512.2,364.7 517.0,369.6 521.1,376.1 500.0,376.1"/>
<polygon fill="#ba55d3" points="533.2,367.9 538.9,367.1 540.5,371.2 534.9,372.0"/>
</g>
<g clip-path="url(#t21)">
<rect x="500" y="376" width="120" height="78" fill="#dda0dd"/>
<polygon fill="#ba55d3" points="509.7,360.0 516.2,366.5 524.3,371.4 534.1,375.4 543.8,379.5 551.9,385.9 558.4,392.4 563.2,400.5 566.5,407.0 573.0,411.9 579.5,415.9 584.3,420.0 586.8,424.9 585.9,431.4 582.7,437.8 581.9,445.9 582.7,454.1 620.0,454.1 620.0,360.0"/>
<polygon fill="#8b008b" points="512.2,360.0 517.8,364.9 525.9,370.1 534.9,374.3 544.6,378.2 552.7,384.3 559.2,390.8 564.1,398.9 567.3,405.4 573.8,410.3 580.3,414.3 587.6,415.9 590.8,420.0 591.6,424.9 590.0,431.4 586.8,437.0 585.1,444.3 585.1,454.1 620.0,454.1 620.0,360.0"/>
<polygon fill="#a00000" points="513.0,360.0 519.5,364.9 525.9,367.3 528.4,370.5 534.1,372.2 538.1,369.7 540.5,371.4 538.9,374.6 545.4,378.6 551.9,381.1 555.1,385.9 561.6,390.8 565.7,396.5 566.5,402.2 571.4,407.0 577.8,410.3 581.1,411.1 587.6,411.9 594.1,414.3 594.1,424.9 593.2,429.7 590.0,433.0 586.8,437.8 585.1,444.3 585.9,450.8 588.4,454.1 620.0,454.1 620.0,360.0"/>
<polygon fill="#cd0000" points="516.2,360.0 522.7,364.9 530.8,368.9 540.5,372.2 548.6,376.2 555.1,381.1 560.0,376.2 561.6,368.1 560.0,360.0"/>
<polygon fill="#cd0000" points="587.6,360.0 590.8,369.7 595.7,377.8 600.5,385.9 603.8,395.7 605.4,408.6 605.4,421.6 603.8,431.4 605.4,444.3 608.6,454.1 620.0,454.1 620.0,360.0"/>
<polygon fill="#ff0000" points="525.9,360.0 532.4,364.9 542.2,368.1 550.3,373.0 555.1,369.7 556.8,360.0"/>
<polygon fill="#ff0000" points="590.8,360.0 595.7,369.7 602.2,377.8 608.6,384.3 620.0,392.4 620.0,360.0"/>
<polygon fill="#ff0000" points="613.5,424.9 620.0,421.6 620.0,454.1 616.8,454.1 611.9,444.3 610.3,433.0"/>
<polygon fill="#ff5a00" points="595.7,360.0 600.5,368.1 607.0,374.6 613.5,379.5 620.0,382.7 620.0,360.0"/>
<polygon fill="#f08228" points="598.9,360.0 603.8,366.5 610.3,371.4 616.8,374.6 620.0,376.2 620.0,360.0"/>
<polygon fill="#e6af2d" points="602.2,360.0 606.2,364.9 611.9,368.1 620.0,369.7 620.0,360.0"/>
<polygon fill="#8b008b" points="568.1,384.3 573.0,379.5 579.5,377.8 585.9,382.7 592.4,389.2 597.3,394.1 599.7,402.2 598.9,411.9 598.1,421.6 599.7,431.4 597.3,441.1 598.9,454.1 588.4,454.1 585.9,450.8 585.1,444.3 586.8,437.8 590.0,433.0 593.2,429.7 594.1,424.9 594.1,414.3 587.6,411.9 581.1,411.1 577.8,410.3 579.5,407.0 571.4,407.0 566.5,402.2 565.7,396.5 563.2,392.4 564.9,387.6"/>
<polygon fill="#cd0000" points="568.1,393.2 573.0,391.6 579.5,394.1 584.3,397.3 589.2,400.5 587.6,405.4 581.1,407.0 574.6,406.2 569.7,402.2"/>
<polygon fill="#ba55d3" points="572.2,385.1 576.2,382.7 581.1,384.3 585.1,389.2 582.7,392.4 577.8,391.6 573.0,389.2"/>
</g>
<polygon fill="#a00000" points="250.0,370.0 260.0,366.0 270.0,372.0 282.0,384.0 296.0,396.0 304.0,400.0 314.0,406.0 318.0,416.0 310.0,420.0 306.0,428.0 307.0,436.0 310.0,440.0 306.0,440.0 304.0,430.0 298.0,420.0 290.0,410.0 282.0,400.0 273.0,390.0 266.0,383.0 258.0,380.0 252.0,376.0"/>
<polygon fill="#ff0000" points="250.0,398.4 254.0,388.0 264.0,385.0 272.0,390.0 276.0,398.4"/>
<polygon fill="#ff5a00" points="252.0,398.4 256.0,390.0 264.0,388.0 270.0,394.0 272.4,398.4"/>
<polygon fill="#f08228" points="256.4,398.4 257.0,395.0 264.0,393.0 268.0,398.0 268.4,398.4"/>
<polygon fill="#ff0000" points="398.4,468.5 413.0,475.8 425.1,488.0 422.7,495.3 413.0,490.4 400.8,483.1 388.6,478.3"/>
<polygon fill="#a00000" points="400.8,529.4 403.2,514.8 413.0,505.0 422.7,502.6 432.4,505.0 427.6,512.3 422.7,522.1 420.3,529.4"/>
<polygon fill="#cd0000" points="145.6,388.6 182.9,388.6 184.5,408.1 179.6,421.1 160.2,421.1 151.2,411.4 145.6,403.2"/>
<polygon fill="#a00000" points="148.8,393.5 155.3,390.3 158.5,396.8 166.6,395.1 173.1,388.6 178.0,395.1 181.2,404.9 179.6,411.4 171.5,417.8 161.8,419.5 153.7,414.6 150.4,408.1 147.2,400.0"/>
<polygon fill="#ff0000" points="180.4,418.6 183.7,417.0 186.9,419.0 183.7,420.8"/>
<polygon fill="#a00000" points="200.0,423.0 212.0,420.0 222.0,423.0 232.0,428.0 240.0,434.0 246.0,442.0 250.0,448.0 260.0,445.0 268.0,448.0 280.0,453.0 294.0,458.0 308.0,455.0 324.0,456.0 328.0,464.0 320.0,470.0 308.0,472.0 294.0,470.0 284.0,466.0 276.0,460.0 266.0,458.0 256.0,460.0 248.0,458.0 240.0,454.0 230.0,450.0 220.0,448.0 210.0,449.0 200.0,450.0"/>
<polygon fill="#8b008b" points="302.0,465.0 308.0,462.0 314.0,466.0 308.0,469.4"/>
<g stroke="#787d7d" stroke-width="1" fill="none">
<line stroke-dasharray="2,4" x1="136.5" y1="55" x2="136.5" y2="529"/>
<line stroke-dasharray="2,4" x1="196.5" y1="55" x2="196.5" y2="529"/>
<line stroke-dasharray="2,4" x1="256.5" y1="55" x2="256.5" y2="529"/>
<line stroke-dasharray="2,4" x1="317.5" y1="55" x2="317.5" y2="529"/>
<line stroke-dasharray="2,4" x1="377.5" y1="55" x2="377.5" y2="529"/>
<line stroke-dasharray="2,4" x1="437.5" y1="55" x2="437.5" y2="529"/>
<line stroke-dasharray="2,4" x1="498.5" y1="55" x2="498.5" y2="529"/>
<line stroke-dasharray="2,4" x1="558.5" y1="55" x2="558.5" y2="529"/>
<line stroke-dasharray="1.5,4.5" x1="121" y1="106.5" x2="618" y2="106.5"/>
<line stroke-dasharray="1.5,4.5" x1="121" y1="180.5" x2="618" y2="180.5"/>
<line stroke-dasharray="1.5,4.5" x1="121" y1="253.5" x2="618" y2="253.5"/>
<line stroke-dasharray="1.5,4.5" x1="121" y1="327.5" x2="618" y2="327.5"/>
<line stroke-dasharray="1.5,4.5" x1="121" y1="401.5" x2="618" y2="401.5"/>
<line stroke-dasharray="1.5,4.5" x1="121" y1="475.5" x2="618" y2="475.5"/>
</g>
<g stroke="#626868" stroke-width="2" fill="none" stroke-linejoin="round" stroke-linecap="round" shape-rendering="auto">
<polyline points="157.0,52.0 164.0,55.0 176.0,58.0 186.0,60.0 198.0,62.0 210.0,65.0 222.0,67.0 232.0,69.0 240.0,69.0 250.0,68.0 258.0,69.0 266.0,72.0"/>
<polyline points="240.0,69.0 236.0,74.0 226.0,79.0 220.0,83.0 219.0,88.0 224.0,90.0 230.0,91.0 236.0,93.0 232.0,98.0 227.0,102.0 227.0,106.0 233.0,107.0 233.0,114.0 231.0,119.0 236.0,122.0 242.0,123.0 246.0,126.0 251.0,132.0 246.0,136.0 240.0,136.0 236.0,140.0 233.0,142.0 227.0,143.0 230.0,145.0 238.0,146.0 254.0,146.4 266.0,145.0"/>
<polyline points="145.0,166.0 145.0,158.0 148.0,152.0 153.0,146.0 160.0,141.0 165.0,138.0 170.0,140.0 167.0,143.0 161.0,146.0 157.0,150.0 154.0,154.0"/>
<polyline points="161.0,146.0 170.0,143.0 178.0,139.0 186.0,136.0 194.0,133.0 200.0,130.0 202.0,125.0 208.0,123.0 218.0,125.0 222.0,129.0 227.0,127.0 230.0,124.0 234.0,126.0 238.0,130.0 240.0,136.0"/>
<polyline points="227.0,143.0 227.0,150.0 229.0,158.0 231.0,166.0"/>
<polyline points="266.0,74.0 276.0,75.0 288.0,76.0 300.0,70.0 306.0,64.0 309.0,60.0 318.0,58.0 332.0,58.0 346.0,57.0 356.0,55.0 374.0,52.0"/>
<polyline points="398.0,52.0 404.0,60.0 408.0,68.0 414.0,70.0"/>
<polyline points="266.0,144.0 278.0,142.0 286.0,138.0 291.0,131.0 293.0,131.0 298.0,138.0 306.0,145.0 316.0,143.0 324.0,147.0 330.0,147.0 335.0,142.0 335.0,136.0 338.0,130.0 335.0,127.0 340.0,122.0 350.0,118.0 356.0,117.0 359.0,116.0 360.0,110.0 359.0,102.0 354.0,98.0 353.0,94.0 356.0,90.0 364.0,88.0 374.0,85.0 382.0,80.0 386.0,76.0 392.0,74.0 394.0,68.0 402.0,67.0 408.0,68.0"/>
<polyline points="364.0,166.0 368.0,164.0 374.0,163.0 378.0,165.0 380.0,166.0"/>
<polyline points="406.0,165.0 414.0,163.0"/>
<polyline points="271.0,166.0 272.0,160.0 275.0,156.0 279.0,155.6"/>
<polyline points="414.0,70.0 422.0,75.0 430.0,80.0 432.0,85.0 440.0,89.0 447.0,93.0 452.0,99.0 454.0,106.0 461.0,110.0 470.0,110.0 476.0,115.0 482.0,119.0 490.0,121.0 500.0,121.0 510.0,122.0 518.0,125.0 524.0,125.0 532.0,119.0 540.0,113.0 547.0,114.0 554.0,111.0 562.0,108.0"/>
<polyline points="414.0,165.0 422.0,164.0 432.0,160.0 436.0,163.0 442.0,166.0"/>
<polyline points="547.0,114.0 554.0,121.0 556.0,128.0 553.0,136.0 554.0,139.0 558.0,138.0 563.0,141.0 562.0,144.0 558.0,144.0 558.0,151.0 566.0,157.0 576.0,161.0 580.0,166.0"/>
<polyline points="558.0,108.0 564.0,105.0 572.0,106.0 580.0,103.0 587.0,98.0 592.0,94.0 604.0,94.4 617.0,93.0"/>
<polyline points="148.0,166.0 153.0,170.0 158.0,176.0 167.0,181.0 166.0,186.0 163.0,191.0 159.0,194.0 153.0,193.0 151.0,200.0 152.0,212.0 154.0,224.0 158.0,234.0 166.0,244.0 174.0,252.0 180.0,256.0 188.0,257.0 196.0,262.0 206.0,270.0 216.0,278.0 222.0,282.0"/>
<polyline points="160.0,257.0 164.0,255.0 166.0,258.0 163.0,261.0 160.0,259.0 160.0,257.0"/>
<polyline points="231.0,166.0 234.0,172.0 240.0,180.0 246.0,190.0 251.0,197.0 255.0,193.0 256.0,187.0 260.0,183.0 265.0,181.0 266.0,175.0"/>
<polyline points="160.0,187.6 162.0,188.4 160.8,189.6 160.0,187.6"/>
<polyline points="297.0,166.0 304.0,169.6 309.0,174.0 311.0,184.0 309.0,190.0 311.0,198.0 316.0,206.0 322.0,214.0 330.0,222.0 336.0,228.0 342.0,232.0 348.0,234.0 340.0,233.0 334.0,231.0 330.0,233.0 326.0,234.0 332.0,244.0 340.0,254.0 350.0,263.0 360.0,270.0 370.0,275.0 375.0,282.0"/>
<polyline points="274.0,166.0 276.0,174.0 278.0,182.0 277.0,190.0 279.0,200.0 282.0,208.0 287.0,218.0 289.0,217.0 285.0,209.0 288.0,206.0 286.0,196.0 284.0,186.0 282.0,178.0 278.0,170.0 276.0,166.0"/>
<polyline points="286.0,166.0 282.0,172.0 286.0,178.0 294.0,181.0 302.0,180.0 305.0,184.0 304.0,178.0 298.0,172.0 294.0,166.0"/>
<polyline points="301.0,202.0 308.0,209.0 316.0,216.0 324.0,224.0 330.0,231.0"/>
<polyline points="312.0,208.0 320.0,216.0 328.0,224.0 332.0,229.0"/>
<polyline points="308.0,241.0 314.0,248.0 320.0,254.0 326.0,261.0 330.0,262.0 326.0,257.0 319.0,250.0 313.0,243.0 308.0,241.0"/>
<polyline points="364.0,166.0 363.0,176.0 362.0,186.0 361.0,192.0 368.0,199.0 375.0,202.0 381.0,210.0 386.0,220.0 389.0,230.0 386.0,237.0 394.0,240.0 402.0,246.0 407.0,251.6 414.0,258.0"/>
<polyline points="380.0,166.0 388.0,174.0 396.0,180.0 402.0,174.0 406.0,166.0"/>
<polyline points="266.0,174.0 270.0,170.0 272.0,166.0"/>
<polyline points="440.0,166.0 450.0,168.0 462.0,167.0 472.0,170.0 482.0,172.0 490.0,175.0 496.0,173.0 504.0,172.0 512.0,170.0 518.0,174.0 526.0,175.0 534.0,177.0 542.0,180.0 546.0,185.0 550.0,189.0 558.0,190.0 559.0,185.0 562.0,183.0"/>
<polyline points="414.0,258.0 420.0,264.0 426.0,272.0 434.0,282.0"/>
<polyline points="564.0,166.0 566.0,172.0 563.0,178.0 560.0,185.0 558.0,189.0 566.0,187.0 576.0,185.0 581.0,187.0 580.0,194.0 576.0,202.0 570.0,212.0 566.0,216.0 566.0,224.0 564.0,228.0 568.0,232.0 576.0,236.0 584.0,242.0 592.0,247.0 597.0,251.0 592.0,256.0 582.0,255.0 574.0,253.0 573.0,256.0 578.0,262.0 586.0,269.0 589.0,276.0 589.0,282.0"/>
<polyline points="572.0,166.0 584.0,167.0"/>
<polyline points="224.0,282.0 232.0,286.0 236.0,294.0 240.0,304.0 244.0,314.0 248.0,324.0 250.0,334.0 254.0,344.0 260.0,352.0 266.0,358.0"/>
<polyline points="121.0,391.0 124.0,395.0 127.0,398.0"/>
<polyline points="266.0,362.0 272.0,368.0 278.0,374.0 286.0,380.0 294.0,386.0 300.0,389.0 299.0,393.0 304.0,398.0"/>
<polyline points="374.0,282.0 372.0,285.0 376.0,290.0 384.0,292.0 390.0,289.0 398.0,286.0 406.0,288.0 412.0,292.0 414.0,293.0"/>
<polyline points="406.0,298.0 403.0,301.0 403.0,306.0 410.0,308.0 414.0,309.0"/>
<polyline points="414.0,310.0 406.0,311.0 400.0,313.0 404.0,315.0 414.0,314.0"/>
<polyline points="380.0,323.0 384.0,321.0 390.0,321.0 392.0,324.0 388.0,326.4 382.0,326.4 380.0,323.0"/>
<polyline points="414.0,295.0 422.0,296.0 430.0,300.0 434.0,305.0 428.0,305.0 420.0,302.0 414.0,302.0"/>
<polyline points="414.0,312.0 422.0,314.0 426.0,316.0 434.0,316.4 444.0,317.0 444.0,319.0 434.0,319.6 424.0,319.0 414.0,318.0"/>
<polyline points="414.0,328.0 420.0,330.0 430.0,331.0 440.0,329.0 448.0,330.0 446.0,333.0 434.0,334.0 424.0,333.6 418.0,332.0 414.0,329.0"/>
<polyline points="438.0,325.0 446.0,324.0 454.0,327.0 464.0,332.0 474.0,335.0"/>
<polyline points="434.0,282.0 440.0,288.0 450.0,291.0 454.0,296.0 455.0,304.0 462.0,312.0 470.0,318.0 476.0,322.0 478.0,327.0 474.0,331.0 468.0,330.0"/>
<polyline points="414.0,294.0 424.0,298.0 434.0,302.0 440.0,308.0 448.0,316.0 456.0,323.0 464.0,329.0 472.0,333.0 480.0,333.0 486.0,335.0 490.0,341.0 498.0,347.0 500.4,348.6"/>
<polyline points="457.0,343.0 462.0,342.0 470.0,344.0 478.0,347.0 483.0,350.0 474.0,348.0 464.0,346.0 457.0,343.0"/>
<polyline points="124.0,398.0 130.0,399.0 138.0,404.0 144.0,410.0 150.0,416.0 156.0,424.0 162.0,430.0 170.0,436.0 178.0,442.0 188.0,446.0 194.0,452.0 198.0,456.0 204.0,456.0 210.0,453.0 218.0,455.0 226.0,457.0 234.0,456.0 240.0,456.0 246.0,462.0 254.0,466.0 258.0,474.0 258.0,482.0 260.0,488.0 266.0,489.0"/>
<polyline points="306.0,398.0 312.0,401.0 320.0,405.0 332.0,407.0 346.0,407.0 360.0,406.0 374.0,405.0 384.0,406.0 388.0,412.0 388.0,418.0 382.0,424.0 374.0,428.0 370.0,432.0 371.0,438.0 378.0,444.0 390.0,450.0 402.0,455.0 414.0,460.0"/>
<polyline points="266.0,487.0 272.0,488.0 280.0,492.0 285.0,497.0 281.0,500.0 279.0,503.0 286.0,503.0 296.0,498.0 304.0,499.0 312.0,504.0 317.0,510.0 320.0,514.0"/>
<polyline points="414.0,460.0 422.0,463.0 434.0,467.0 446.0,472.0 454.0,477.0 462.0,484.0 470.0,489.0 480.0,493.0 492.0,497.0 499.0,500.0 500.0,507.0 504.0,512.0 506.0,514.0"/>
<polyline points="434.0,514.0 439.0,510.4 446.0,510.4 454.0,513.0 458.0,513.6"/>
<polyline points="588.4,454.0 589.0,460.0 586.0,468.0 587.0,475.0 591.0,480.0 584.0,484.0 581.0,492.0 578.0,501.0 581.0,506.0 586.0,507.0 587.0,514.0"/>
<polyline points="314.0,510.0 316.0,516.0 315.0,524.0 312.0,530.0"/>
<polyline points="500.0,500.0 499.0,507.0 506.0,514.0 514.0,520.0 520.0,526.0 524.0,530.0"/>
<polyline points="422.0,530.0 428.0,518.0 436.0,511.0 444.0,509.6 457.0,513.0 450.0,517.0 456.0,522.0 468.0,526.0 482.0,526.0 492.0,529.0"/>
<polyline points="588.0,514.0 587.0,522.0 583.0,524.0 578.0,517.0 576.0,516.0 577.0,520.0 581.0,526.0 584.0,530.0"/>
<polyline points="555.9,285.2 555.1,290.1 557.6,293.4 560.0,296.6 562.4,303.1 562.4,307.9 559.2,309.6 555.9,306.3 555.1,301.5 550.3,300.6 545.4,303.1 540.5,307.9 538.1,314.4 537.3,320.9 534.9,324.2 529.2,325.8 525.9,329.8 525.1,337.1 527.6,343.6 531.6,348.5 533.2,351.7 530.8,355.0 525.9,358.2 525.1,363.1 525.9,367.9"/>
<polyline points="555.9,285.2 558.4,283.6 564.9,286.1 571.4,289.3 581.1,285.2 588.4,283.6"/>
<polyline points="571.4,289.3 576.2,294.2 582.7,299.0 589.2,304.7 595.7,311.2 600.5,313.6 610.3,316.9 620.0,320.9"/>
<polyline points="500.0,346.1 506.5,350.1 513.0,355.0 517.8,357.4 524.3,359.8 525.9,367.9 530.0,371.2 534.9,370.4 534.1,367.9 538.9,367.1 541.4,371.2 540.5,376.1"/>
<polyline points="620.0,359.8 616.8,363.1 610.3,365.5 605.4,363.9 603.0,358.2 603.8,353.4 601.4,351.7 597.3,354.2 594.9,358.2 593.2,363.1 589.2,369.6 584.3,376.1"/>
<polyline points="620.0,345.2 617.6,346.9 617.6,350.1 620.0,350.9"/>
<polyline points="538.9,374.6 545.4,378.6 551.9,381.1 555.1,385.9 561.6,390.8 565.7,396.5 566.5,402.2 571.4,407.0 577.8,410.3 581.1,411.1 587.6,411.9 594.1,414.3 594.1,424.9 593.2,429.7 590.0,433.0 586.8,437.8 585.1,444.3 585.9,450.8 588.4,454.1"/>
<polyline points="586.8,374.9 581.1,379.5 576.2,384.3 575.4,388.4 579.5,391.6 581.1,394.9 579.5,402.2 578.6,408.6 579.5,411.1"/>
</g>
</g>
<rect x="119" y="465" width="138" height="66" fill="#000"/><rect x="121" y="467" width="134" height="62" fill="#fff"/>
<g shape-rendering="auto">
<text x="148.5" y="483" font-size="10.4" textLength="99.5" lengthAdjust="spacing">Temperatura zraka</text>
<text x="172.7" y="496.5" font-size="10.4" textLength="75" lengthAdjust="spacing">na 2m (st. C)</text>
<text x="141" y="510" font-size="10.4" textLength="107" lengthAdjust="spacing">start 00z22sep2011</text>
<text x="129.5" y="523" font-size="10.4" textLength="118.5" lengthAdjust="spacing">termin 03Z24SEP2011</text>
<rect x="516.5" y="51" width="103" height="41.5" fill="#fff" stroke="#000" stroke-width="1"/>
<text x="547.7" y="78.4" font-size="19.8" textLength="57.6" lengthAdjust="spacing" fill="#1f3cff" stroke="#1f3cff" stroke-width="0.45">DHMZ</text>
<circle cx="536.9" cy="72" r="6.6" fill="none" stroke="#1f3cff" stroke-width="1.2"/>
<text x="536.9" y="75.7" font-size="13.5" font-weight="bold" text-anchor="middle" fill="#1f3cff">c</text>
</g>
<rect x="120" y="51" width="499" height="479" fill="none" stroke="#000" stroke-width="2"/>
<g stroke="#000" stroke-width="1">
<line x1="136.5" y1="531" x2="136.5" y2="534"/>
<line x1="196.5" y1="531" x2="196.5" y2="534"/>
<line x1="256.5" y1="531" x2="256.5" y2="534"/>
<line x1="317.5" y1="531" x2="317.5" y2="534"/>
<line x1="377.5" y1="531" x2="377.5" y2="534"/>
<line x1="437.5" y1="531" x2="437.5" y2="534"/>
<line x1="498.5" y1="531" x2="498.5" y2="534"/>
<line x1="558.5" y1="531" x2="558.5" y2="534"/>
<line x1="618.5" y1="531" x2="618.5" y2="534"/>
<line x1="117" y1="106.5" x2="119" y2="106.5"/>
<line x1="117" y1="180.5" x2="119" y2="180.5"/>
<line x1="117" y1="253.5" x2="119" y2="253.5"/>
<line x1="117" y1="327.5" x2="119" y2="327.5"/>
<line x1="117" y1="401.5" x2="119" y2="401.5"/>
<line x1="117" y1="475.5" x2="119" y2="475.5"/>
</g>
<g shape-rendering="auto">
<text x="128.75" y="543.8" font-size="10.8" textLength="15.5" lengthAdjust="spacingAndGlyphs">12E</text>
<text x="189.04" y="543.8" font-size="10.8" textLength="15.5" lengthAdjust="spacingAndGlyphs">13E</text>
<text x="249.33" y="543.8" font-size="10.8" textLength="15.5" lengthAdjust="spacingAndGlyphs">14E</text>
<text x="309.62" y="543.8" font-size="10.8" textLength="15.5" lengthAdjust="spacingAndGlyphs">15E</text>
<text x="369.91" y="543.8" font-size="10.8" textLength="15.5" lengthAdjust="spacingAndGlyphs">16E</text>
<text x="430.2" y="543.8" font-size="10.8" textLength="15.5" lengthAdjust="spacingAndGlyphs">17E</text>
<text x="490.49" y="543.8" font-size="10.8" textLength="15.5" lengthAdjust="spacingAndGlyphs">18E</text>
<text x="550.78" y="543.8" font-size="10.8" textLength="15.5" lengthAdjust="spacingAndGlyphs">19E</text>
<text x="611.07" y="543.8" font-size="10.8" textLength="15.5" lengthAdjust="spacingAndGlyphs">20E</text>
<text x="97.2" y="110.4" font-size="10.8" textLength="17" lengthAdjust="spacingAndGlyphs">46N</text>
<text x="97.2" y="184.2" font-size="10.8" textLength="17" lengthAdjust="spacingAndGlyphs">45N</text>
<text x="97.2" y="258" font-size="10.8" textLength="17" lengthAdjust="spacingAndGlyphs">44N</text>
<text x="97.2" y="331.8" font-size="10.8" textLength="17" lengthAdjust="spacingAndGlyphs">43N</text>
<text x="97.2" y="405.6" font-size="10.8" textLength="17" lengthAdjust="spacingAndGlyphs">42N</text>
<text x="97.2" y="479.4" font-size="10.8" textLength="17" lengthAdjust="spacingAndGlyphs">41N</text>
<text x="171.3" y="40.2" font-size="14.3" textLength="396" lengthAdjust="spacing">Temperatura zraka na 2m u 03 UTC 24SEP2011</text>
</g>
<rect x="652" y="77" width="15" height="19" fill="#ffefdf"/>
<rect x="652" y="96" width="15" height="18" fill="#d8bfd8"/>
<rect x="652" y="114" width="15" height="19" fill="#dda0dd"/>
<rect x="652" y="133" width="15" height="19" fill="#ba55d3"/>
<rect x="652" y="152" width="15" height="18" fill="#8b008b"/>
<rect x="652" y="170" width="15" height="19" fill="#a00000"/>
<rect x="652" y="189" width="15" height="18" fill="#cd0000"/>
<rect x="652" y="207" width="15" height="19" fill="#ff0000"/>
<rect x="652" y="226" width="15" height="19" fill="#ff5a00"/>
<rect x="652" y="245" width="15" height="18" fill="#f08228"/>
<rect x="652" y="263" width="15" height="19" fill="#e6af2d"/>
<rect x="652" y="282" width="15" height="19" fill="#e6dc32"/>
<rect x="652" y="301" width="15" height="18" fill="#f0f064"/>
<rect x="652" y="319" width="15" height="19" fill="#e1f5a0"/>
<rect x="652" y="338" width="15" height="19" fill="#a0e632"/>
<rect x="652" y="357" width="15" height="18" fill="#00dc00"/>
<rect x="652" y="375" width="15" height="19" fill="#00b400"/>
<rect x="652" y="394" width="15" height="18" fill="#008200"/>
<rect x="652" y="412" width="15" height="19" fill="#1e3cff"/>
<rect x="652" y="431" width="15" height="19" fill="#00a0ff"/>
<rect x="652" y="450" width="15" height="18" fill="#b0e0e6"/>
<rect x="652" y="468" width="15" height="19" fill="#f0ffff"/>
<g shape-rendering="auto">
<text x="670" y="81.2" font-size="12.6" textLength="14.5" lengthAdjust="spacing">29</text>
<text x="670" y="100.2" font-size="12.6" textLength="14.5" lengthAdjust="spacing">27</text>
<text x="670" y="118.2" font-size="12.6" textLength="14.5" lengthAdjust="spacing">25</text>
<text x="670" y="137.2" font-size="12.6" textLength="14.5" lengthAdjust="spacing">23</text>
<text x="670" y="156.2" font-size="12.6" textLength="14.5" lengthAdjust="spacing">21</text>
<text x="670" y="174.2" font-size="12.6" textLength="14.5" lengthAdjust="spacing">19</text>
<text x="670" y="193.2" font-size="12.6" textLength="14.5" lengthAdjust="spacing">17</text>
<text x="670" y="211.2" font-size="12.6" textLength="14.5" lengthAdjust="spacing">15</text>
<text x="670" y="230.2" font-size="12.6" textLength="14.5" lengthAdjust="spacing">13</text>
<text x="670" y="249.2" font-size="12.6" textLength="14.5" lengthAdjust="spacing">11</text>
<text x="670" y="267.2" font-size="12.6">9</text>
<text x="670" y="286.2" font-size="12.6">7</text>
<text x="670" y="305.2" font-size="12.6">5</text>
<text x="670" y="323.2" font-size="12.6">3</text>
<text x="670" y="342.2" font-size="12.6">1</text>
<rect x="671" y="356" width="9" height="1" fill="#000" shape-rendering="crispEdges"/>
<text x="681" y="361.2" font-size="12.6">1</text>
<rect x="671" y="374" width="9" height="1" fill="#000" shape-rendering="crispEdges"/>
<text x="681" y="379.2" font-size="12.6">3</text>
<rect x="671" y="393" width="9" height="1" fill="#000" shape-rendering="crispEdges"/>
<text x="681" y="398.2" font-size="12.6">5</text>
<rect x="671" y="411" width="9" height="1" fill="#000" shape-rendering="crispEdges"/>
<text x="681" y="416.2" font-size="12.6">7</text>
<rect x="671" y="430" width="9" height="1" fill="#000" shape-rendering="crispEdges"/>
<text x="681" y="435.2" font-size="12.6">9</text>
<rect x="671" y="449" width="9" height="1" fill="#000" shape-rendering="crispEdges"/>
<text x="681" y="454.2" font-size="12.6" textLength="14" lengthAdjust="spacing">11</text>
<rect x="671" y="467" width="9" height="1" fill="#000" shape-rendering="crispEdges"/>
<text x="681" y="472.2" font-size="12.6" textLength="14" lengthAdjust="spacing">13</text>
<rect x="671" y="486" width="9" height="1" fill="#000" shape-rendering="crispEdges"/>
<text x="681" y="491.2" font-size="12.6" textLength="14" lengthAdjust="spacing">15</text>
<rect x="671" y="505" width="9" height="1" fill="#000" shape-rendering="crispEdges"/>
<text x="681" y="510.2" font-size="12.6" textLength="14" lengthAdjust="spacing">17</text>
<text x="664" y="528" font-size="10.4" textLength="35.5" lengthAdjust="spacing">(st. C)</text>
</g>
</svg></body></html>
